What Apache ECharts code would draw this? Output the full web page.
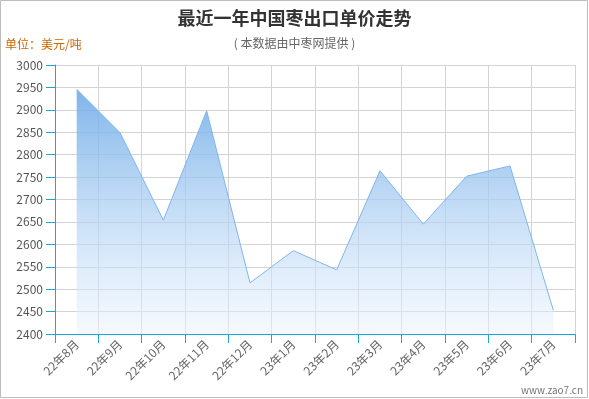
<!DOCTYPE html>
<html><head><meta charset="utf-8">
<script src="https://cdn.jsdelivr.net/npm/echarts@6/dist/echarts.min.js"></script>
<style>html,body{margin:0;padding:0;background:#fff}#c{width:589px;height:399px}</style>
</head><body><div id="c"></div>
<script>
const categories = ['22年8月','22年9月','22年10月','22年11月','22年12月','23年1月','23年2月','23年3月','23年4月','23年5月','23年6月','23年7月'];
const prices = [2946, 2849, 2654, 2898, 2514, 2586, 2543, 2764, 2645, 2752, 2775, 2453];
const yTicks = {min: 2400, max: 3000, interval: 50};

const font = '"Noto Sans CJK SC", "Noto Sans", sans-serif';
const chart = echarts.init(document.getElementById('c'), null, {renderer: 'canvas'});
chart.setOption({
  animation: false,
  textStyle: {fontFamily: font},
  title: {
    text: '最近一年中国枣出口单价走势',
    subtext: '( 本数据由中枣网提供 )',
    left: 'center', top: 4,
    textStyle: {fontSize: 18, fontWeight: 'bold', color: '#333', fontFamily: font},
    subtextStyle: {fontSize: 12, color: '#666', fontFamily: font},
    itemGap: 10
  },
  graphic: [
    {type: 'rect', shape: {x: 0.5, y: 0.5, width: 587, height: 397}, style: {fill: 'none', stroke: '#bdbdbd', lineWidth: 1}, silent: true},
    {type: 'text', left: 5, top: 38, style: {text: '单位：美元/吨', fill: '#cc6600', font: '12px ' + font}},
    {type: 'text', right: 6, top: 385, style: {text: 'www.zao7.cn', fill: '#777', font: '10px ' + font}}
  ],
  grid: {left: 55, right: 14, top: 65, bottom: 65, containLabel: false},
  xAxis: {
    type: 'category',
    data: categories,
    boundaryGap: true,
    axisLine: {lineStyle: {color: '#1aa6dc', width: 1}},
    axisTick: {show: true, length: 9, lineStyle: {color: '#1aa6dc'}},
    axisLabel: {rotate: 45, color: '#666', fontSize: 12, margin: 8, interval: 0},
    splitLine: {show: true, lineStyle: {color: '#d3d3d3'}}
  },
  yAxis: {
    type: 'value',
    min: yTicks.min, max: yTicks.max, interval: yTicks.interval,
    axisLine: {show: true, lineStyle: {color: '#1aa6dc'}},
    axisTick: {show: true, length: 9, lineStyle: {color: '#1aa6dc'}},
    axisLabel: {color: '#555', fontSize: 12, margin: 12, formatter: v => String(v)},
    splitLine: {show: true, lineStyle: {color: '#d3d3d3'}}
  },
  series: [{
    type: 'line',
    data: prices,
    symbol: 'none',
    lineStyle: {color: '#7fb5ea', width: 1},
    areaStyle: {
      origin: 'start',
      opacity: 1,
      color: new echarts.graphic.LinearGradient(0, 0, 0, 1, [
        {offset: 0, color: 'rgba(112,172,232,0.9)'},
        {offset: 1, color: 'rgba(235,243,253,0.5)'}
      ])
    }
  }]
});
</script></body></html>
